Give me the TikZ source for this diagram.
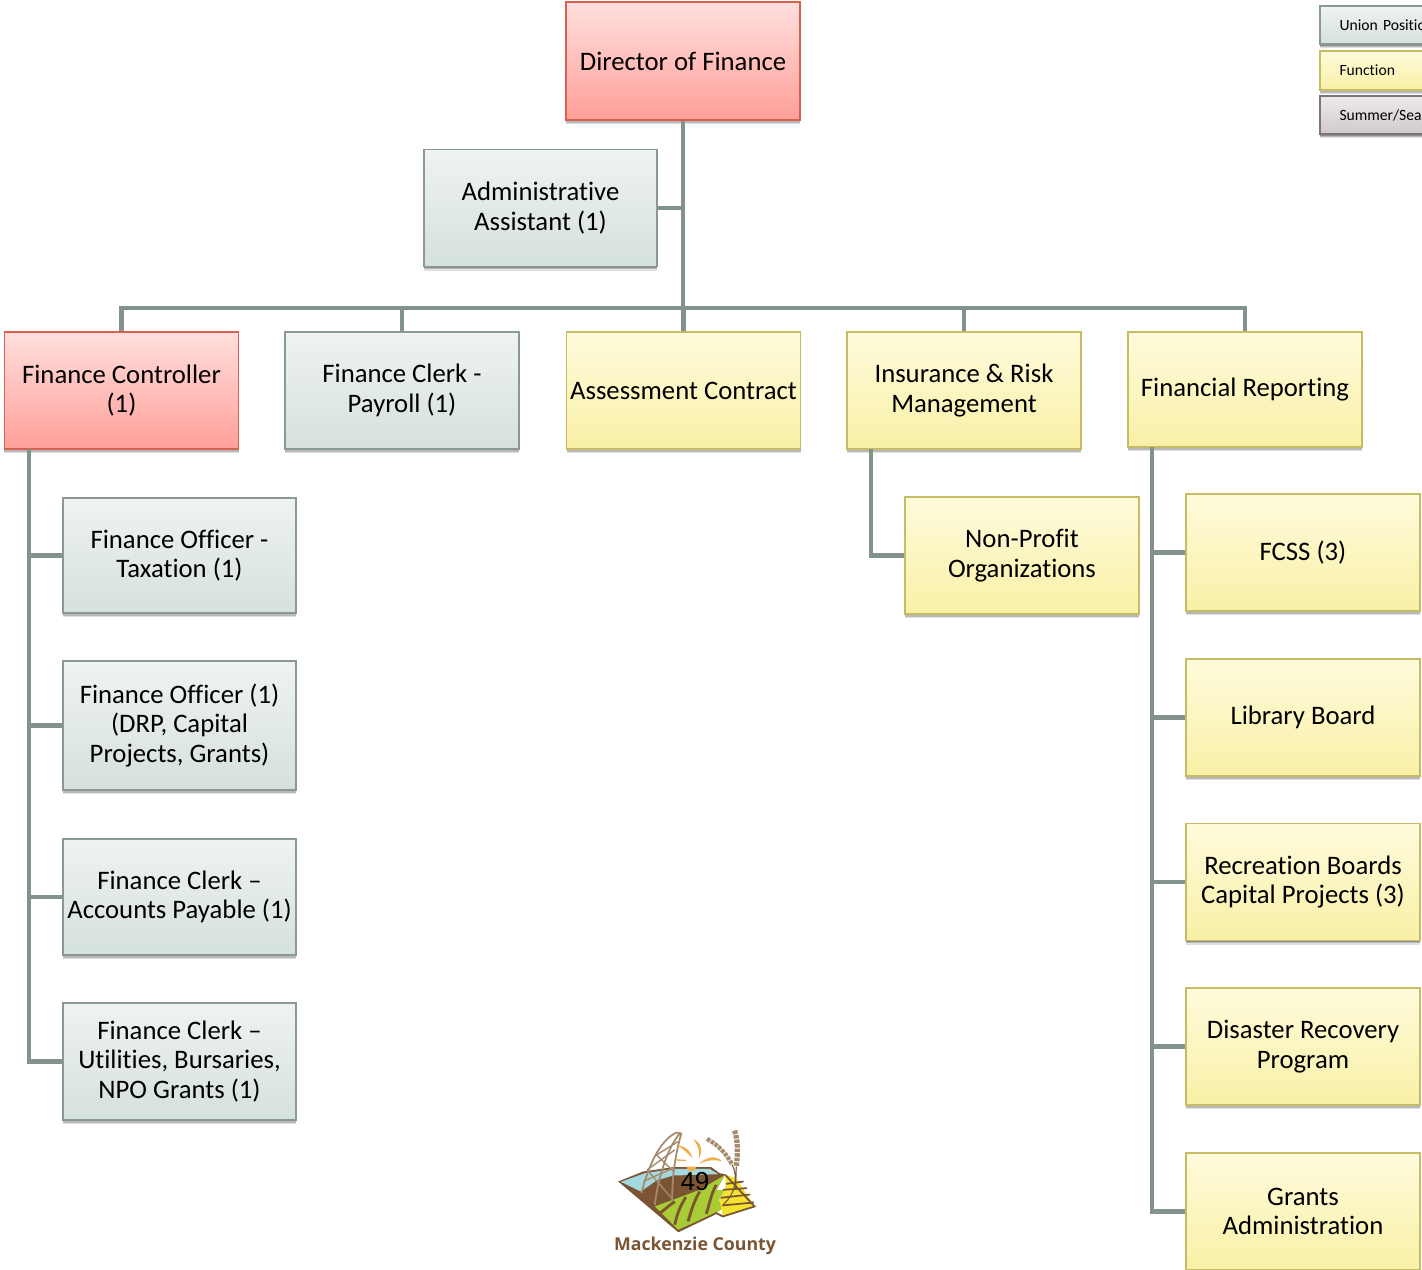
\documentclass[tikz,border=0pt]{standalone}
\usepackage{fontspec}
\setmainfont{Carlito}[Ligatures=NoCommon]
\newfontfamily\logofont{Open Sans}
\newfontfamily\pagefont{Liberation Sans}
\usetikzlibrary{shadows}
\definecolor{linkgrey}{HTML}{82938C}
\definecolor{redtop}{HTML}{FFDFDD}
\definecolor{redbottom}{HTML}{FF9F99}
\definecolor{redline}{HTML}{D9604F}
\definecolor{greentop}{HTML}{EFF3F1}
\definecolor{greenbottom}{HTML}{D5E1DB}
\definecolor{greenline}{HTML}{8A9A92}
\definecolor{yellowtop}{HTML}{FEFBDC}
\definecolor{yellowbottom}{HTML}{F9F0A6}
\definecolor{yellowline}{HTML}{C6BC63}
\definecolor{greytop}{HTML}{EEEAEC}
\definecolor{greybottom}{HTML}{D0C9CC}
\definecolor{greyline}{HTML}{7F7478}
\definecolor{logobrown}{HTML}{7A5433}
\definecolor{logogreen}{HTML}{A9CB35}
\definecolor{logoyellow}{HTML}{F3E32F}
\definecolor{logoblue}{HTML}{A3D9DE}
\definecolor{logosun}{HTML}{EFB04A}
\definecolor{logotan}{HTML}{A58A6E}
\tikzset{
    softshadow/.style={
        drop shadow={shadow xshift=0pt,shadow yshift=-0.4pt,opacity=0.22,fill=black},
        drop shadow={shadow xshift=0pt,shadow yshift=-0.8pt,opacity=0.18,fill=black},
        drop shadow={shadow xshift=0pt,shadow yshift=-1.2pt,opacity=0.12,fill=black}},
    orgbox/.style={draw,line width=0.4pt,inner sep=0pt,align=center,minimum width=2.34cm,minimum height=1.17cm,
        font=\fontsize{7.6}{8.4}\selectfont,softshadow},
    redbox/.style={orgbox,draw=redline,line width=0.55pt,top color=redtop,bottom color=redbottom},
    greenbox/.style={orgbox,draw=greenline,top color=greentop,bottom color=greenbottom},
    yellowbox/.style={orgbox,draw=yellowline,line width=0.5pt,top color=yellowtop,bottom color=yellowbottom},
    greybox/.style={orgbox,draw=greyline,top color=greytop,bottom color=greybottom},
    keybox/.style={minimum height=0.385cm,minimum width=2.2cm,line width=0.55pt,text width=1.81cm,align=left,font=\fontsize{4.45}{5}\selectfont},
    link/.style={linkgrey,line width=1.4pt},
}
\begin{document}
\begin{tikzpicture}
    \useasboundingbox (0,0) rectangle (14.22,-12.70);
    \clip (0,0) rectangle (14.22,-12.70);
    % boxes
    \node[redbox,minimum height=1.18cm] (director) at (6.83,-0.61) {Director of Finance};
    \node[greenbox,minimum width=2.33cm] (admin) at (5.405,-2.08) {Administrative\\Assistant (1)};
    \node[redbox] (controller) at (1.215,-3.905) {Finance Controller\\(1)};
    \node[greenbox] (payroll) at (4.02,-3.905) {Finance Clerk -\\Payroll (1)};
    \node[yellowbox] (assessment) at (6.835,-3.905) {Assessment Contract};
    \node[yellowbox] (insurance) at (9.64,-3.905) {Insurance \& Risk\\Management};
    \node[yellowbox,minimum height=1.15cm] (reporting) at (12.45,-3.895) {Financial Reporting};
    \node[greenbox,minimum width=2.33cm,minimum height=1.15cm] (taxation) at (1.795,-5.555) {Finance Officer -\\Taxation (1)};
    \node[greenbox,minimum width=2.33cm,minimum height=1.29cm] (grants) at (1.795,-7.255) {Finance Officer (1)\\(DRP, Capital\\Projects, Grants)};
    \node[greenbox,minimum width=2.33cm,minimum height=1.16cm] (payable) at (1.795,-8.97) {Finance Clerk --\\Accounts Payable (1)};
    \node[greenbox,minimum width=2.33cm] (utilities) at (1.795,-10.615) {Finance Clerk --\\Utilities, Bursaries,\\NPO Grants (1)};
    \node[yellowbox] (nonprofit) at (10.22,-5.555) {Non-Profit\\Organizations};
    \node[yellowbox] (fcss) at (13.03,-5.525) {FCSS (3)};
    \node[yellowbox] (library) at (13.03,-7.175) {Library Board};
    \node[yellowbox] (recreation) at (13.03,-8.82) {Recreation Boards\\Capital Projects (3)};
    \node[yellowbox] (disaster) at (13.03,-10.465) {Disaster Recovery\\Program};
    \node[yellowbox] (admingrants) at (13.03,-12.115) {Grants\\Administration};
    % legend
    \node[greenbox,keybox] (union) at (14.3,-0.25) {Union Position};
    \node[yellowbox,keybox] (function) at (14.3,-0.705) {Function};
    \node[greybox,keybox] (seasonal) at (14.3,-1.15) {Summer/Seasonal};
    % lines
    \coordinate (bus) at (6.83,-3.08);
    \coordinate (controllerfoot) at (0.29,-4.49);
    \coordinate (insurancefoot) at (8.71,-4.49);
    \coordinate (reportingfoot) at (11.52,-4.47);
    \draw[link] (director.south) -- (bus);
    \draw[link] (admin.east) -- (admin.east -| director.south);
    \foreach \n in {controller,payroll,assessment,insurance,reporting}
        \draw[link] (bus) -| (\n.north);
    \foreach \n in {taxation,grants,payable,utilities}
        \draw[link] (controllerfoot) |- (\n.west);
    \draw[link] (insurancefoot) |- (nonprofit.west);
    \foreach \n in {fcss,library,recreation,disaster,admingrants}
        \draw[link] (reportingfoot) |- (\n.west);
    % logo
    \begin{scope}[shift={(5.6,-11.1)},x=0.003333cm,y=-0.003333cm]
        \fill[logobrown] (175,215) -- (250,185) -- (340,172) -- (455,172) -- (480,190) -- (497,193) -- (470,240) -- (480,300) -- (355,367) -- cycle;
        \fill[logoblue] (183,216) -- (255,190) -- (340,177) -- (450,177) -- (476,193) -- (340,197) -- (290,212) -- (243,245) -- cycle;
        \fill[logogreen] (285,290) -- (345,268) -- (420,240) -- (497,195) -- (470,240) -- (497,240) -- (478,270) -- (490,295) -- (470,310) -- (355,360) -- cycle;
        \fill[logoyellow] (497,195) -- (530,205) -- (585,290) -- (490,320) -- (480,270) -- (497,235) -- cycle;
        \draw[logobrown,line width=0.5pt] (497,195) -- (585,290) -- (490,320) -- (470,310) -- (355,365);
        \draw[logobrown,line width=0.8pt] (470,225) .. controls (455,250) and (450,280) .. (440,312)
            (420,245) .. controls (405,270) and (395,300) .. (385,335)
            (378,262) .. controls (365,285) and (355,300) .. (345,345)
            (345,275) .. controls (330,285) and (315,300) .. (298,312);
        \draw[logobrown,line width=0.5pt] (500,222) -- (552,215) (490,240) -- (562,235) (483,264) -- (572,254) (488,287) -- (583,278);
        \draw[logotan,line width=0.5pt] (245,250) .. controls (265,170) and (300,90) .. (350,68) (285,285) .. controls (295,200) and (325,110) .. (362,68) (338,275) .. controls (335,200) and (350,120) .. (365,70) (350,68) -- (365,70);
        \draw[logotan,line width=0.4pt] (250,215) -- (340,175) (262,180) -- (345,120) (290,135) -- (355,95) (262,180) -- (340,270) (290,135) -- (342,185);
        \fill[logosun] (380,170) arc (180:0:15) -- cycle;
        \fill[logosun] (400,88) .. controls (425,95) and (430,125) .. (418,145) .. controls (420,120) and (415,105) .. (400,88) -- cycle;
        \fill[logosun] (352,105) .. controls (380,110) and (395,125) .. (398,145) .. controls (385,130) and (370,118) .. (352,105) -- cycle;
        \fill[logosun] (418,162) .. controls (440,140) and (470,135) .. (488,155) .. controls (465,148) and (445,150) .. (418,162) -- cycle;
        \draw[logosun,line width=0.4pt] (350,150) -- (380,152);
        \draw[logotan,line width=1.2pt,dash pattern=on 1pt off 0.3pt] (442,87) .. controls (475,105) and (500,130) .. (518,165);
        \draw[logotan,line width=1.5pt,dash pattern=on 1pt off 0.3pt] (525,62) .. controls (535,90) and (535,130) .. (530,170);
        \draw[logobrown,line width=0.3pt] (518,165) .. controls (535,200) and (530,250) .. (490,285) (530,170) -- (528,240);
        \node[text=logobrown,inner sep=0pt,font=\logofont\bfseries\fontsize{5.05}{6}\selectfont] (county) at (406,408) {Mackenzie County};
    \end{scope}
    \node[inner sep=0pt,font=\pagefont\fontsize{7.4}{9}\selectfont] (pagenum) at (6.95,-11.82) {49};
\end{tikzpicture}
\end{document}
